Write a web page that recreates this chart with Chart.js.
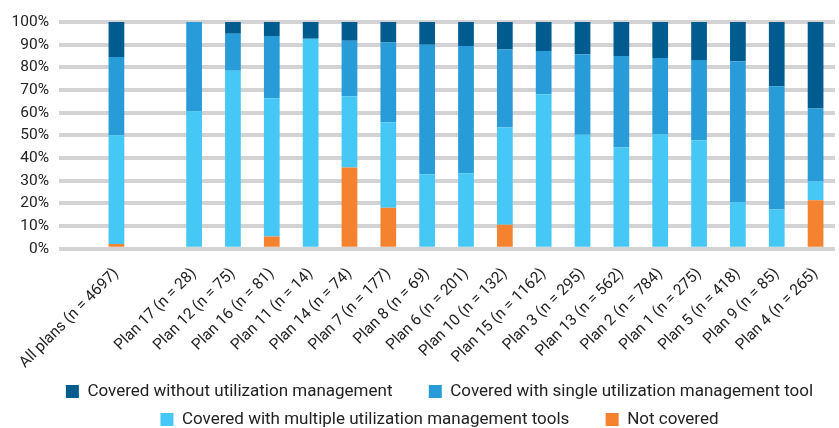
<!DOCTYPE html>
<html>
<head>
<meta charset="utf-8">
<script src="https://cdn.jsdelivr.net/npm/chart.js@4/dist/chart.umd.min.js"></script>
<style>
  html, body { margin: 0; padding: 0; background: #fff; }
  #wrap { width: 839px; height: 428px; position: relative; }
</style>
</head>
<body>
<div id="wrap"><canvas id="myChart"></canvas></div>
<script>
const ctx = document.getElementById("myChart").getContext("2d");

// --- Data ---
const plans = [
  "All plans (n = 4697)", "",
  "Plan 17 (n = 28)", "Plan 12 (n = 75)", "Plan 16 (n = 81)", "Plan 11 (n = 14)",
  "Plan 14 (n = 74)", "Plan 7 (n = 177)", "Plan 8 (n = 69)", "Plan 6 (n = 201)",
  "Plan 10 (n = 132)", "Plan 15 (n = 1162)", "Plan 3 (n = 295)", "Plan 13 (n = 562)",
  "Plan 2 (n = 784)", "Plan 1 (n = 275)", "Plan 5 (n = 418)", "Plan 9 (n = 85)",
  "Plan 4 (n = 265)",
];
const notCovered = [2.1, null, 0, 0, 5.4, 0, 35.8, 18.1, 0, 0, 10.6, 0, 0, 0, 0, 0, 0, 0, 21.4];
const multipleTools = [47.9, null, 60.6, 78.5, 61.0, 92.6, 31.5, 37.7, 32.9, 33.3, 42.9, 68.1, 50.3, 44.7, 50.4, 47.9, 20.4, 17.3, 8.2];
const singleTool = [34.6, null, 39.4, 16.3, 27.4, 0, 24.4, 35.2, 57.1, 56.1, 34.4, 19.1, 35.5, 40.3, 33.7, 35.3, 62.3, 54.4, 32.3];
const withoutUM = [15.4, null, 0, 5.2, 6.2, 7.4, 8.3, 9.0, 10.0, 10.6, 12.1, 12.8, 14.2, 15.0, 15.9, 16.8, 17.3, 28.3, 38.1];
const yTicks = [0, 10, 20, 30, 40, 50, 60, 70, 80, 90, 100];

const FONT = "Roboto, 'DejaVu Sans', sans-serif";
const GRID = "#d3d3d5";

// bottom of stack first; legend is reversed
const datasets = [
  { label: "Not covered", data: notCovered, backgroundColor: "#f5822f" },
  { label: "Covered with multiple utilization management tools", data: multipleTools, backgroundColor: "#45c8f5" },
  { label: "Covered with single utilization management tool", data: singleTool, backgroundColor: "#279cd8" },
  { label: "Covered without utilization management", data: withoutUM, backgroundColor: "#005b8f" },
].map((d) => ({ ...d, borderWidth: 0, barPercentage: 0.405, categoryPercentage: 1 }));

// nudge the legend a little right/up, like the original
const legendShift = {
  id: "legendShift",
  afterLayout(chart) {
    const l = chart.legend;
    l.left += 22; l.right += 22;
    l.top -= 8; l.bottom -= 8;
  },
};

new Chart(ctx, {
  type: "bar",
  data: { labels: plans, datasets: datasets },
  plugins: [legendShift],
  options: {
    responsive: true,
    maintainAspectRatio: false,
    animation: false,
    layout: { padding: { top: 22, right: 4, left: 0, bottom: -18 } },
    scales: {
      x: {
        stacked: true,
        grid: { display: false },
        border: { display: false },
        ticks: {
          color: "#222",
          font: { family: FONT, size: 15.5 },
          maxRotation: 45,
          minRotation: 45,
          autoSkip: false,
          padding: 8,
        },
      },
      y: {
        stacked: true,
        min: 0,
        max: 100,
        afterFit: (s) => { s.width = 97; },
        afterBuildTicks: (s) => { s.ticks = yTicks.map((v) => ({ value: v })); },
        grid: { color: GRID, lineWidth: 4, tickLength: 38 },
        border: { display: false },
        ticks: {
          color: "#222",
          font: { family: FONT, size: 15.5 },
          padding: 10,
          autoSkip: false,
          callback: (v) => v + "%",
        },
      },
    },
    plugins: {
      legend: {
        position: "bottom",
        reverse: true,
        labels: {
          color: "#222",
          font: { family: FONT, size: 17 },
          boxWidth: 13,
          boxHeight: 13,
          padding: 11,
          // first item of each row gets extra room before the next one
          generateLabels: (chart) => {
            const items = Chart.defaults.plugins.legend.labels.generateLabels(chart);
            items.forEach((it) => {
              if (it.datasetIndex === 3 || it.datasetIndex === 1) it.text += "      ";
            });
            return items;
          },
        },
      },
      tooltip: { enabled: false },
    },
  },
});
</script>
</body>
</html>
